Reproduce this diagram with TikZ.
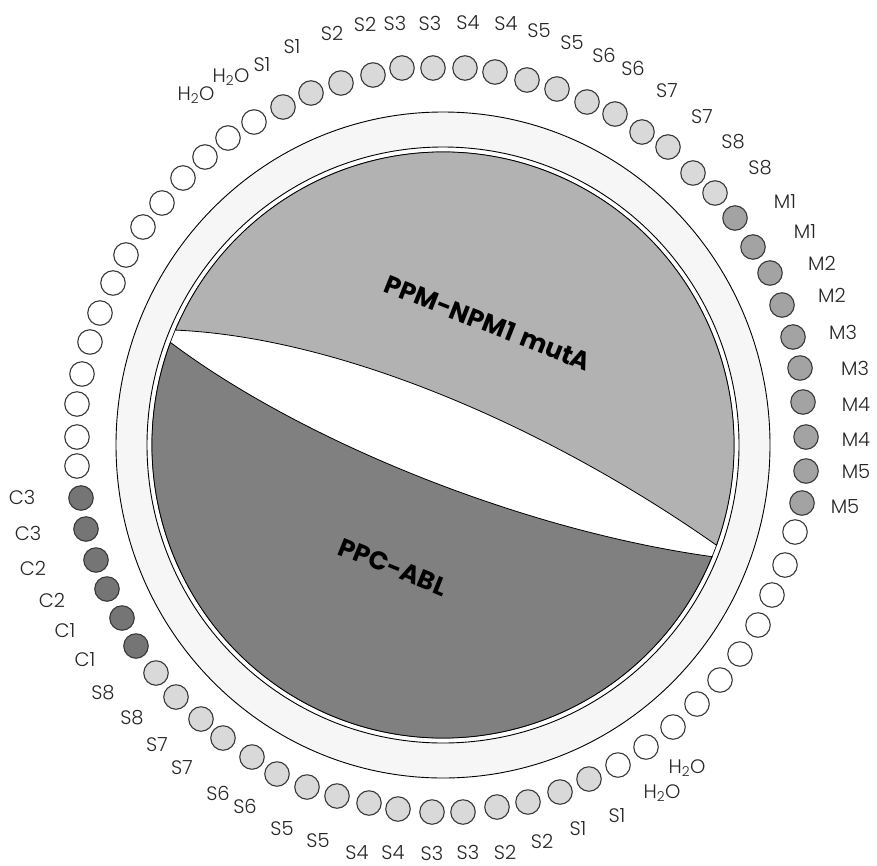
\documentclass[tikz,border=0pt]{standalone}
\usepackage{fontspec}
\setmainfont{Poppins Light}[BoldFont=Poppins Bold]
\definecolor{sgray}{gray}{0.85}
\definecolor{mgray}{gray}{0.64}
\definecolor{cgray}{gray}{0.46}
\definecolor{ppmgray}{gray}{0.70}
\definecolor{ppcgray}{gray}{0.50}
\definecolor{bandgray}{gray}{0.965}
\begin{document}
\begin{tikzpicture}[x=1pt,y=-1pt,
  well/.style={circle, draw=black!78, line width=1.1pt, minimum size=24.5pt, inner sep=0pt},
  ew/.style={well, fill=white},
  sw/.style={well, fill=sgray},
  mw/.style={well, fill=mgray},
  cw/.style={well, fill=cgray},
  lab/.style={font=\fontsize{19.5}{21}\selectfont, text=black!85, inner sep=0pt},
  big/.style={font=\bfseries\fontsize{25.5}{28}\selectfont, inner sep=0pt},
  region/.style={draw=black, line width=0.8pt}]
\useasboundingbox (0,0) rectangle (877,865);
\coordinate (C) at (443,445);
% rotor band
\draw[line width=0.9pt, fill=bandgray] (C) ellipse[x radius=327, y radius=333];
\draw[line width=0.9pt, fill=white] (C) ellipse[x radius=296, y radius=298];
\draw[line width=0.7pt] (C) ellipse[x radius=291, y radius=293];
% regions
\path (C) ++(-156.9:291 and 293) coordinate (A);
\path (C) ++(200.5:291 and 293) coordinate (D);
\draw[region, fill=ppmgray] (A) arc[start angle=-156.9, end angle=20, x radius=291, y radius=293]
  .. controls (560,435) and (350,338) .. cycle;
\draw[region, fill=ppcgray] (D) arc[start angle=200.5, end angle=22.4, x radius=291, y radius=293]
  .. controls (520,530) and (300,440) .. cycle;
\node[big, rotate=-21.6] (ppm) at (488,323) {PPM-NPM1\hspace{0.3em}mutA};
\node[big, rotate=-22] (ppc) at (393,567) {PPC-ABL};
% wells
\foreach \n/\x/\y in {1/82/374,2/90/342,3/100/313,4/113/283,5/126/255,6/143/227,7/162/203,8/183/178,
  9/205/157,10/228/138,11/254/122,38/795/532,39/785/565,40/772/595,41/758/625,42/740/654,
  43/720/680,44/697/704,45/673/727,46/646/747,47/618/765,70/77/466,71/77/437,72/77/404}
  \node[ew] (w\n) at (\x,\y) {};
\foreach \n/\x/\y in {12/283/107,13/311/93,14/341/83,15/373/75,16/402/68,17/433/68,18/465/68,
  19/495/72,20/527/80,21/557/89,22/587/102,23/615/114,24/642/132,25/668/147,26/693/173,27/715/193,
  48/589/779,49/560/792,50/528/802,51/497/807,52/463/812,53/432/812,54/398/809,55/369/803,
  56/337/796,57/307/787,58/277/774,59/252/757,60/223/738,61/201/719,62/176/697,63/156/673}
  \node[sw] (w\n) at (\x,\y) {};
\foreach \n/\x/\y in {28/735/218,29/753/247,30/770/273,31/782/305,32/793/337,33/800/368,
  34/803/402,35/806/437,36/806/471,37/802/503}
  \node[mw] (w\n) at (\x,\y) {};
\foreach \n/\x/\y in {64/136/646,65/122/618,66/107/589,67/96/560,68/86/529,69/81/498}
  \node[cw] (w\n) at (\x,\y) {};
% labels
\foreach \n/\x/\y in {10/196/95,11/231/77,46/687/768,47/662/793}
  \node[lab] (l\n) at (\x,\y) {H\textsubscript{2}O};
\foreach \n/\x/\y/\t in {12/262/65/S1,13/292/47/S1,14/332/33/S2,15/365/24/S2,16/395/23/S3,17/430/23/S3,
  18/468/23/S4,19/506/24/S4,20/539/31/S5,21/572/43/S5,22/604/55/S6,23/633/68/S6,24/667/91/S7,
  25/702/117/S7,26/733/142/S8,27/760/168/S8,28/785/202/M1,29/805/232/M1,30/822/263/M2,
  31/832/295/M2,32/843/332/M3,33/855/368/M3,34/856/405/M4,35/856/440/M4,36/856/472/M5,
  37/845/507/M5,48/617/816/S1,49/578/829/S1,50/542/841/S2,51/505/852/S2,52/468/852/S3,
  53/432/853/S3,54/393/853/S4,55/357/853/S4,56/318/841/S5,57/282/829/S5,58/245/806/S6,
  59/218/793/S6,60/182/768/S7,61/157/745/S7,62/132/718/S8,63/103/693/S8,64/85/660/C1,
  65/65/631/C1,66/52/600/C2,67/33/568/C2,68/28/533/C3,69/22/497/C3}
  \node[lab] (l\n) at (\x,\y) {\t};
\end{tikzpicture}
\end{document}
